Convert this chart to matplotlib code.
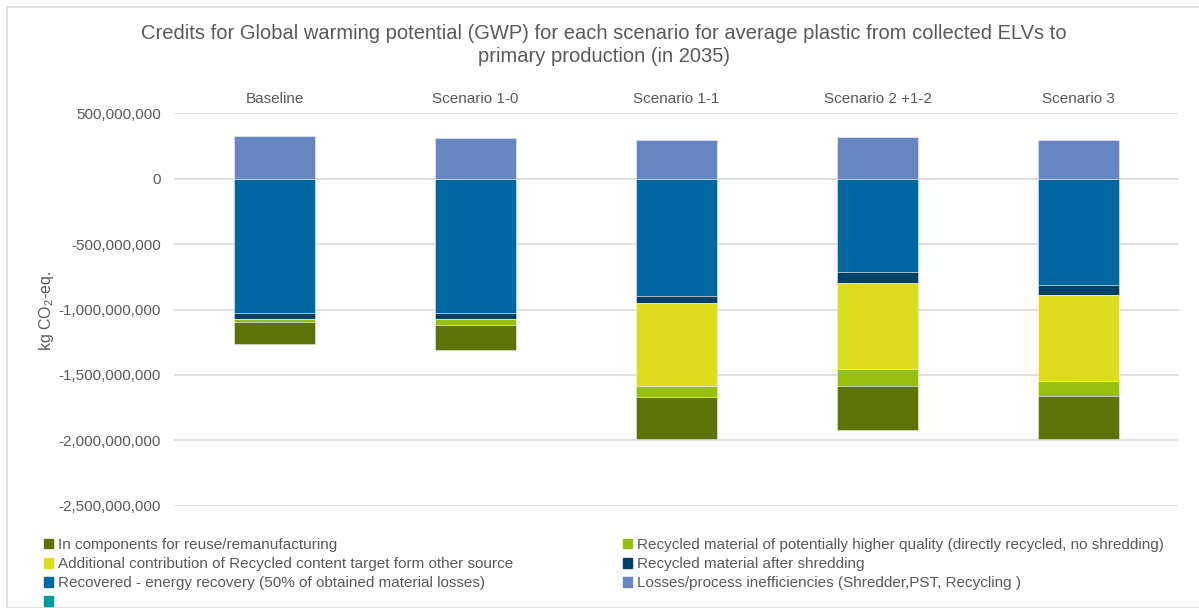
import numpy as np
import matplotlib.pyplot as plt
from matplotlib.patches import Patch, Rectangle
from matplotlib.ticker import FuncFormatter

plt.rcParams['font.family'] = ['Liberation Sans', 'DejaVu Sans']
plt.rcParams['mathtext.fontset'] = 'custom'
plt.rcParams['mathtext.rm'] = 'Liberation Sans'

scenarios = ['Baseline', 'Scenario 1-0', 'Scenario 1-1', 'Scenario 2 +1-2', 'Scenario 3']

# values in kg CO2-eq (credits are negative, losses positive)
energy_recovery = [-1026e6, -1026e6, -895e6, -711e6, -815e6]
after_shredding = [-49e6, -49e6, -59e6, -87e6, -75e6]
other_source = [0, 0, -628e6, -656e6, -659e6]
higher_quality = [-20e6, -40e6, -85e6, -134e6, -113e6]
components = [-165e6, -193e6, -323e6, -330e6, -326e6]
losses = [328e6, 313e6, 295e6, 320e6, 295e6]

c_comp = '#5e720a'
c_high = '#97bf0d'
c_other = '#dcdb1e'
c_shred = '#00416a'
c_energy = '#0068a1'
c_loss = '#6785c1'
c_teal = '#009a9a'
grey = '#595959'

fig = plt.figure(figsize=(11.99, 6.08), dpi=100)
fig.add_artist(Rectangle((7 / 1199, 0), 1.2, 1 - 7 / 608, transform=fig.transFigure,
                         fill=False, edgecolor='#d9d9d9', linewidth=1.2))

ax = fig.add_axes([174 / 1199, 1 - 505.7 / 608, 1005 / 1199, (505.7 - 113.3) / 608])

x = np.arange(len(scenarios))
width = 0.4
edge = dict(edgecolor='#ffffff80', linewidth=0.6)

neg_series = [(energy_recovery, c_energy), (after_shredding, c_shred),
              (other_source, c_other), (higher_quality, c_high), (components, c_comp)]
bottom = np.zeros(len(scenarios))
for vals, col in neg_series:
    vals = np.array(vals)
    ax.bar(x, vals, width, bottom=bottom, color=col, zorder=3, **edge)
    bottom = bottom + vals
ax.bar(x, losses, width, color=c_loss, zorder=3, **edge)

ax.set_xlim(-0.5, len(scenarios) - 0.5)
ax.set_ylim(-2.5e9, 0.5e9)
ax.set_yticks(np.arange(-2.5e9, 0.51e9, 0.5e9))
ax.yaxis.set_major_formatter(FuncFormatter(lambda v, p: f'{v:,.0f}'))
ax.grid(axis='y', color='#d9d9d9', linewidth=1.2, zorder=0)
for s in ax.spines.values():
    s.set_visible(False)
ax.tick_params(axis='y', length=0, pad=9.5, labelsize=11, labelcolor=grey)
ax.xaxis.tick_top()
ax.set_xticks(x)
ax.set_xticklabels(scenarios)
ax.tick_params(axis='x', length=0, pad=5.5, labelsize=11, labelcolor=grey)

fig.text(46 / 1199, 1 - 311 / 608, 'kg CO$_2$-eq.', rotation=90, ha='center', va='center',
         fontsize=11.5, color=grey)

fig.text(604 / 1199, 1 - 45 / 608,
         'Credits for Global warming potential (GWP) for each scenario for average plastic from collected ELVs to\n'
         'primary production (in 2035)',
         ha='center', va='center', fontsize=14.5, color=grey, linespacing=1.22)

leg_kw = dict(frameon=False, fontsize=11, labelcolor=grey, handlelength=0.6, handleheight=0.6,
              handletextpad=0.3, labelspacing=0.33, borderaxespad=0, borderpad=0)
h1 = [Patch(color=c_comp), Patch(color=c_other), Patch(color=c_energy), Patch(color=c_teal)]
l1 = ['In components for reuse/remanufacturing',
      'Additional contribution of Recycled content target form other source',
      'Recovered - energy recovery (50% of obtained material losses)', ' ']
h2 = [Patch(color=c_high), Patch(color=c_shred), Patch(color=c_loss)]
l2 = ['Recycled material of potentially higher quality (directly recycled, no shredding)',
      'Recycled material after shredding',
      'Losses/process inefficiencies (Shredder,PST, Recycling )']
fig.legend(h1, l1, loc='upper left', bbox_to_anchor=(44 / 1199, 1 - 538 / 608), **leg_kw)
fig.legend(h2, l2, loc='upper left', bbox_to_anchor=(623 / 1199, 1 - 538 / 608), **leg_kw)

fig.savefig('out.png', dpi=100)
